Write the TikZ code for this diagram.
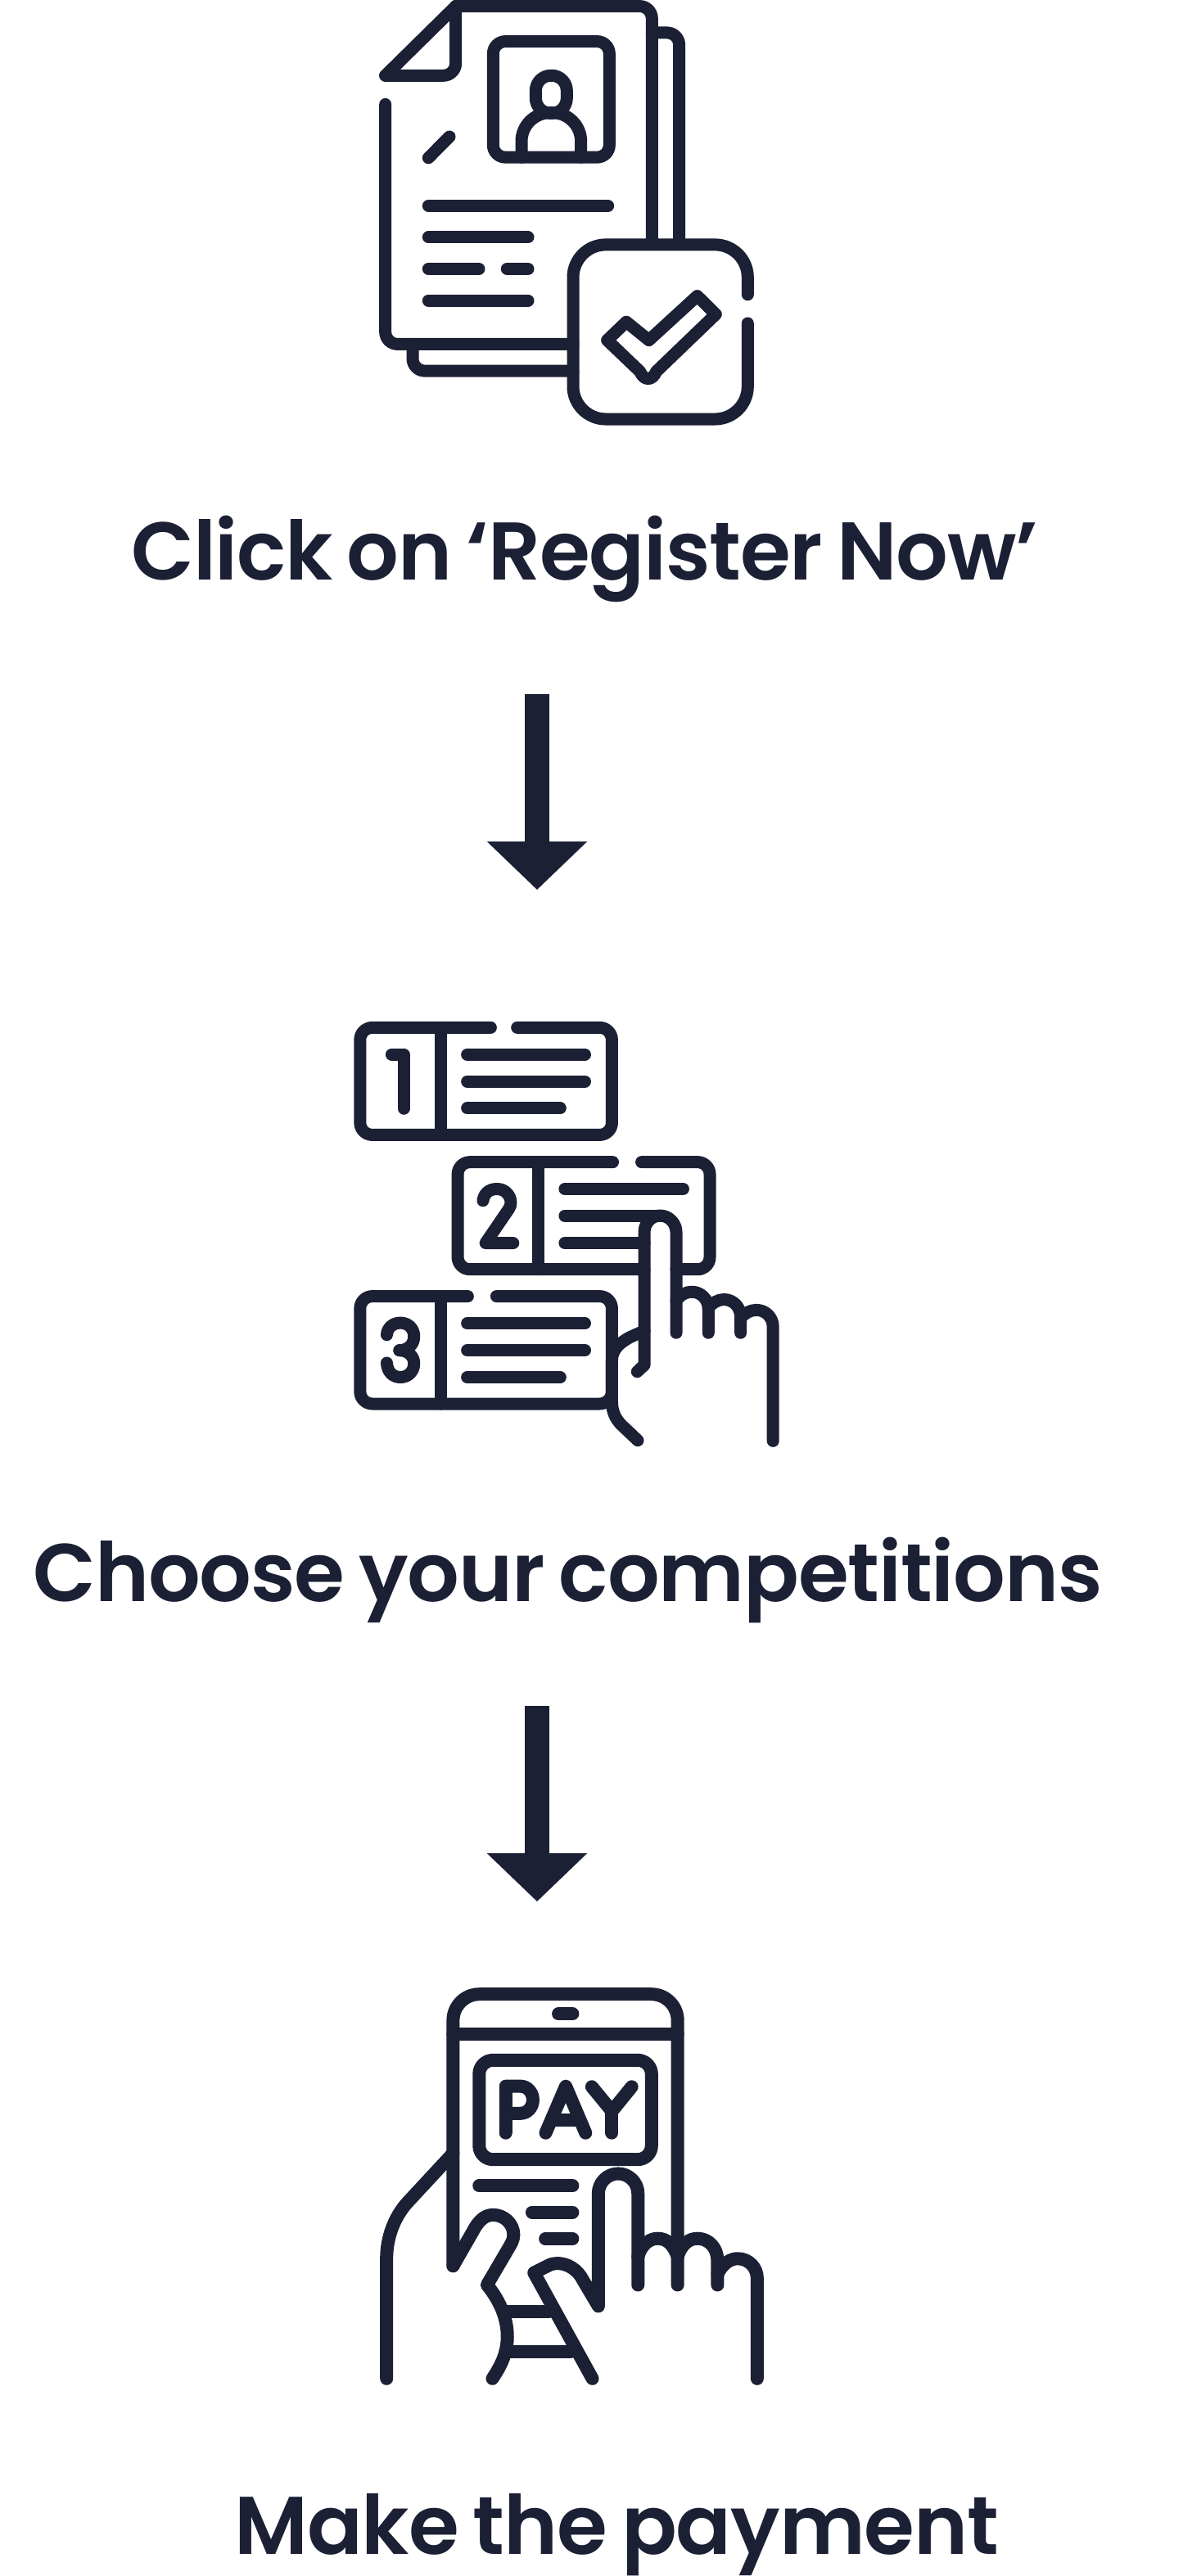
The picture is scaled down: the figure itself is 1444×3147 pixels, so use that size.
\documentclass[tikz,border=0pt]{standalone}
\usepackage{fontspec}
\usetikzlibrary{arrows.meta}
\newfontfamily\popsemi[LetterSpace=-1.1,WordSpace=0.75]{Poppins SemiBold}
\definecolor{ink}{HTML}{1C2035}
\tikzset{
  iconline/.style={draw=ink,line cap=round,line join=round},
  icona/.style={iconline,line width=15pt},
  iconb/.style={iconline,line width=15pt},
  iconc/.style={iconline,line width=16pt},
  caption/.style={anchor=base west,inner sep=0pt,text=ink,font=\popsemi\fontsize{100}{100}\selectfont},
  bigarrow/.style={draw=ink,line width=30pt,-{Triangle[length=59pt,width=119pt,fill=ink]}}
}
\begin{document}
\begin{tikzpicture}[x=1pt,y=-1pt]
\useasboundingbox[fill=white] (0,0) rectangle (1444,3147);
% ---------- icon 1
\begin{scope}[shift={(440pt,0pt)},x=0.33333pt,y=-0.34435pt]
\draw[icona,rounded corners=15pt] (92,370) -- (92,1221) -- (780,1221);
\draw[icona,rounded corners=15pt] (350,22) -- (1069,22) -- (1069,865);
\draw[icona,rounded corners=15pt] (350,22) -- (350,268) -- (92,268);
\draw[icona] (92,268) -- (350,22);
\draw[icona,rounded corners=15pt] (1069,116) -- (1169,116) -- (1169,865);
\draw[icona,rounded corners=15pt] (192,1221) -- (192,1316) -- (780,1316);
\draw[icona,rounded corners=15pt] (487,147) rectangle (913,558);
\draw[icona,rounded corners=18.5pt] (643,268) rectangle (757,402);
\draw[icona,rounded corners=35pt] (591,558) -- (591,400) -- (809,400) -- (809,558);
\draw[icona] (250,560) -- (327,485);
\draw[icona] (250,730) -- (908,730);
\draw[icona] (250,842) -- (615,842);
\draw[icona] (250,954) -- (435,954);
\draw[icona] (538,954) -- (615,954);
\draw[icona] (250,1066) -- (615,1066);
\draw[icona,rounded corners=40pt] (1420,1045) -- (1420,868) -- (780,868) -- (780,1487) -- (1420,1487) -- (1420,1147);
\draw[icona] (905,1207) -- (975,1142) -- (1058,1207) -- (1235,1050) -- (1303,1115) -- (1085,1318) .. controls (1070,1352) and (1040,1352) .. (1025,1318) -- cycle;
\end{scope}
% ---------- icon 2
\begin{scope}[shift={(410pt,-1230pt)},x=0.35077pt,y=-0.35714pt]
% card 1
\draw[iconb,rounded corners=15pt] (632,71) -- (962,71) -- (962,438) -- (85,438) -- (85,71) -- (540,71);
\draw[iconb] (365,71) -- (365,438);
\draw[iconb] (458,163) -- (868,163);
\draw[iconb] (458,255) -- (868,255);
\draw[iconb] (458,347) -- (782,347);
\draw[iconb] (195,163) -- (237,163) -- (237,348);
% card 2
\draw[iconb,rounded corners=15pt] (1075,898) -- (425,898) -- (425,531) -- (965,531);
\draw[iconb,rounded corners=15pt] (1065,531) -- (1303,531) -- (1303,898) -- (1186,898);
\draw[iconb] (705,531) -- (705,898);
\draw[iconb] (798,623) -- (1210,623);
\draw[iconb] (798,715) -- (1130,715);
\draw[iconb] (798,808) -- (1075,808);
\draw[iconb] (513,663) .. controls (517,637) and (535,623) .. (562,623) .. controls (590,623) and (610,645) .. (610,670) .. controls (610,685) and (600,695) .. (590,710) -- (522,808) -- (618,808);
% card 3
\draw[iconb,rounded corners=15pt] (560,990) -- (962,990) -- (962,1358) -- (85,1358) -- (85,990) -- (460,990);
\draw[iconb] (365,990) -- (365,1358);
\draw[iconb] (458,1083) -- (868,1083);
\draw[iconb] (458,1175) -- (868,1175);
\draw[iconb] (458,1267) -- (782,1267);
\draw[iconb] (178,1122) .. controls (180,1097) and (200,1081) .. (226,1081) .. controls (252,1081) and (273,1100) .. (273,1127) .. controls (273,1155) and (252,1175) .. (222,1175);
\draw[iconb] (222,1175) .. controls (252,1175) and (273,1195) .. (273,1220) .. controls (273,1247) and (252,1267) .. (226,1267) .. controls (200,1267) and (180,1250) .. (178,1218);
% hand
\draw[iconb] (1050,1248) -- (1075,1225) -- (1075,770) .. controls (1075,740) and (1100,714) .. (1130,714) .. controls (1160,714) and (1186,740) .. (1186,770) -- (1186,1115);
\draw[iconb] (1186,1005) .. controls (1200,985) and (1220,975) .. (1240,975) .. controls (1272,975) and (1298,1000) .. (1298,1035) -- (1298,1115);
\draw[iconb] (1298,1030) .. controls (1312,1012) and (1332,1001) .. (1352,1001) .. controls (1384,1001) and (1410,1026) .. (1410,1060) -- (1410,1115);
\draw[iconb] (1410,1065) .. controls (1424,1048) and (1444,1037) .. (1465,1037) .. controls (1497,1037) and (1523,1062) .. (1523,1095) -- (1523,1485);
\draw[iconb] (1075,1108) .. controls (1045,1122) and (1025,1128) .. (1005,1142) .. controls (980,1158) and (962,1180) .. (962,1210) -- (962,1350) .. controls (962,1385) and (975,1410) .. (995,1430) -- (1052,1483);
\end{scope}
% ---------- icon 3
\begin{scope}[shift={(440pt,-2410pt)},x=0.33163pt,y=-0.33163pt]
\draw[iconc,rounded corners=32pt] (342,1080) -- (342,79) -- (1169,79) -- (1169,1150);
\draw[iconc] (342,225) -- (1169,225);
\draw[iconc] (730,152) -- (782,152);
\draw[iconc,rounded corners=17pt] (438,322) rectangle (1073,688);
% PAY
\draw[iconc] (536,590) -- (536,418) -- (590,418) .. controls (617,418) and (636,442) .. (636,468) .. controls (636,495) and (617,518) .. (590,518) -- (536,518);
\draw[iconc] (683,590) -- (757,418) -- (830,590);
\draw[iconc] (705,542) -- (808,542);
\draw[iconc] (853,420) -- (927,510) -- (1000,420);
\draw[iconc] (927,510) -- (927,590);
% text lines
\draw[iconc] (438,785) -- (782,785);
\draw[iconc] (633,882) -- (782,882);
\draw[iconc] (682,980) -- (782,980);
% pointing finger and thumb side
\draw[iconc] (1023,1150) -- (1023,813) .. controls (1023,773) and (990,740) .. (950,740) .. controls (910,740) and (877,773) .. (877,813) -- (877,1228) -- (812,1118) .. controls (790,1085) and (745,1060) .. (700,1075) -- (640,1105) -- (855,1495);
% folded fingers
\draw[iconc] (1023,1045) .. controls (1040,990) and (1075,979) .. (1096,979) .. controls (1125,979) and (1150,995) .. (1169,1045);
\draw[iconc] (1169,1045) .. controls (1185,995) and (1215,979) .. (1242,979) .. controls (1285,979) and (1316,1015) .. (1316,1060) -- (1316,1150);
\draw[iconc] (1316,1110) .. controls (1335,1070) and (1365,1053) .. (1390,1053) .. controls (1430,1053) and (1462,1085) .. (1462,1125) -- (1462,1495);
% left hand and thumb
\draw[iconc] (342,665) -- (175,845) .. controls (125,900) and (97,975) .. (97,1055) -- (97,1495);
\draw[iconc] (342,1080) -- (425,935) .. controls (445,905) and (465,892) .. (490,892) .. controls (530,892) and (565,925) .. (565,965) .. controls (565,985) and (555,1000) .. (545,1017) -- (467,1150) .. controls (520,1215) and (542,1280) .. (542,1340) .. controls (542,1400) and (520,1445) .. (487,1495);
\draw[iconc] (530,1248) -- (695,1248);
\draw[iconc] (535,1395) -- (775,1395);
\end{scope}
% ---------- captions
\node[caption] (t1) at (160,708) {Click on ‘Register Now’};
\node[caption] (t2) at (40,1956) {Choose your competitions};
\node[caption] (t3) at (286,3120) {Make the payment};
% ---------- arrows
\coordinate (a1s) at (656,848);
\coordinate (a1e) at (656,1087);
\coordinate (a2s) at (656,2084);
\coordinate (a2e) at (656,2323);
\draw[bigarrow] (a1s) -- (a1e);
\draw[bigarrow] (a2s) -- (a2e);
\end{tikzpicture}
\end{document}
